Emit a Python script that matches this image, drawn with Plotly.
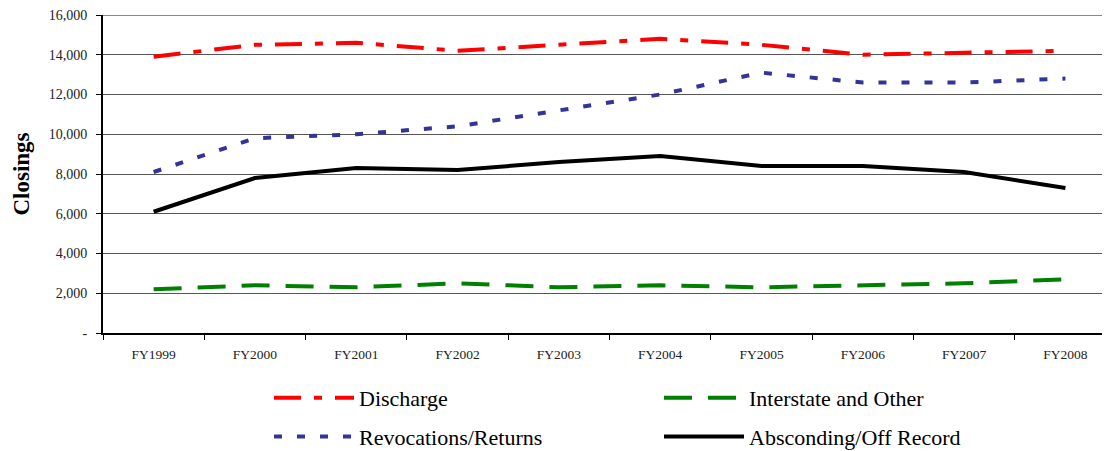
import plotly.graph_objects as go

categories = ["FY1999", "FY2000", "FY2001", "FY2002", "FY2003",
              "FY2004", "FY2005", "FY2006", "FY2007", "FY2008"]
discharge = [13900, 14500, 14600, 14200, 14500, 14800, 14500, 14000, 14100, 14200]
revocations = [8100, 9800, 10000, 10400, 11200, 12000, 13100, 12600, 12600, 12800]
interstate = [2200, 2400, 2300, 2500, 2300, 2400, 2300, 2400, 2500, 2700]
absconding = [6100, 7800, 8300, 8200, 8600, 8900, 8400, 8400, 8100, 7300]

y_tickvals = [0, 2000, 4000, 6000, 8000, 10000, 12000, 14000, 16000]
y_ticktext = ["-", "2,000", "4,000", "6,000", "8,000", "10,000", "12,000", "14,000", "16,000"]

SERIF = "Liberation Serif"

fig = go.Figure()
fig.add_trace(go.Scatter(x=categories, y=discharge, name="Discharge", mode="lines",
                         line=dict(color="#FF0000", width=4, dash="27px,13px,8px,13px"),
                         legend="legend", legendgroup="a"))
fig.add_trace(go.Scatter(x=categories, y=revocations, name="Revocations/Returns", mode="lines",
                         line=dict(color="#333399", width=4, dash="8px,15px"),
                         legend="legend", legendgroup="b"))
fig.add_trace(go.Scatter(x=categories, y=interstate, name="Interstate and Other", mode="lines",
                         line=dict(color="#008000", width=4, dash="28px,16px"),
                         legend="legend2", legendgroup="c"))
fig.add_trace(go.Scatter(x=categories, y=absconding, name="Absconding/Off Record", mode="lines",
                         line=dict(color="#000000", width=4),
                         legend="legend2", legendgroup="d"))

# page has an 8px body margin; plot area in page pixels:
PAGE_OFF = 8
PLOT_L, PLOT_R, PLOT_T, PLOT_B = 103, 1110, 15, 333
pw, ph = PLOT_R - PLOT_L, PLOT_B - PLOT_T
W, H = 1110 - PAGE_OFF, 451 - PAGE_OFF

def px_x(x):
    return (x - PLOT_L) / pw

def px_y(y):
    return (PLOT_B - y) / ph

legend_common = dict(
    orientation="v", xanchor="left", yanchor="top", itemwidth=80,
    font=dict(family=SERIF, size=22, color="#000"),
    bgcolor="rgba(0,0,0,0)", tracegroupgap=7, traceorder="grouped",
)

fig.update_layout(
    width=W, height=H,
    margin=dict(l=PLOT_L - PAGE_OFF, r=W + PAGE_OFF - PLOT_R, t=PLOT_T - PAGE_OFF,
                b=H + PAGE_OFF - PLOT_B, autoexpand=False),
    paper_bgcolor="white", plot_bgcolor="white",
    font=dict(family=SERIF),
    showlegend=True,
    legend=dict(x=px_x(269), y=px_y(377), **legend_common),
    legend2=dict(x=px_x(659), y=px_y(377), **legend_common),
    xaxis=dict(
        type="category", range=[-0.5, 9.44],
        tickson="boundaries", ticks="outside", ticklen=5, tickcolor="#000",
        showline=True, linecolor="#000", linewidth=2,
        showgrid=False, zeroline=False, tickangle=0, ticklabelstandoff=8,
        tickfont=dict(family=SERIF, size=13.5, color="#222"),
    ),
    yaxis=dict(
        range=[0, 16000], tickvals=y_tickvals, ticktext=y_ticktext,
        ticks="outside", ticklen=5, tickcolor="#000",
        showline=True, linecolor="#000", linewidth=2,
        showgrid=True, gridcolor="#555", gridwidth=1, zeroline=False,
        ticklabelstandoff=6, ticklabeloverflow="allow",
        tickfont=dict(family=SERIF, size=14, color="#222"),
        title=dict(text="<b>Closings</b>", font=dict(family=SERIF, size=23, color="#000"),
                   standoff=13),
    ),
)

# lighter top border along the 16,000 gridline
fig.add_shape(type="line", xref="paper", yref="y", x0=0, x1=1,
              y0=y_tickvals[-1], y1=y_tickvals[-1],
              line=dict(color="#888", width=2), layer="below")

fig.write_html("out.html")
